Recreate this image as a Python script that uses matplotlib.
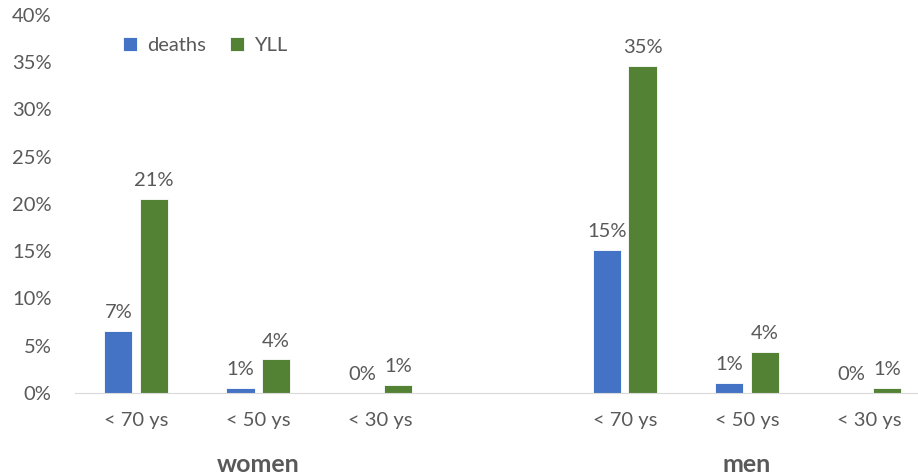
import matplotlib.pyplot as plt
import numpy as np

plt.rcParams['font.family'] = ['Lato', 'DejaVu Sans']

# categories, with an empty slot between women and men
groups = ['women', 'men']
ages = ['< 70 ys', '< 50 ys', '< 30 ys']
deaths_women = [6.55, 0.55, 0.0]
yll_women = [20.55, 3.55, 0.88]
deaths_men = [15.15, 1.05, 0.0]
yll_men = [34.6, 4.35, 0.55]

blue = '#4472C4'
green = '#548235'
grey = '#595959'

deaths = deaths_women + [np.nan] + deaths_men
yll = yll_women + [np.nan] + yll_men
labels = ages + [''] + ages
x = np.arange(len(labels))

fig = plt.figure(figsize=(9.18, 4.76), dpi=100)
ax = fig.add_axes([75 / 918, 1 - 393 / 476, (918 - 75) / 918, (393 - 15) / 476])

w = 0.23
off = 0.145
b1 = ax.bar(x - off, deaths, w, color=blue, edgecolor='white', linewidth=0.6, label='deaths')
b2 = ax.bar(x + off, yll, w, color=green, edgecolor='white', linewidth=0.6, label='YLL')

for bars, vals in [(b1, deaths), (b2, yll)]:
    for rect, v in zip(bars, vals):
        if np.isnan(v):
            continue
        ax.annotate('%d%%' % round(v), (rect.get_x() + rect.get_width() / 2, v),
                    xytext=(0, 7), textcoords='offset points', ha='center', va='bottom',
                    fontsize=14.5, color=grey)

ax.set_xlim(-0.5, 6.4)
ax.set_ylim(0, 40)
ax.set_yticks(np.arange(0, 41, 5))
ax.set_yticklabels(['%d%%' % t for t in np.arange(0, 41, 5)])
ax.set_xticks(x)
ax.set_xticklabels(labels)
ax.tick_params(length=0, labelsize=14.5, colors=grey)
ax.tick_params(axis='x', pad=14)
ax.tick_params(axis='y', pad=17)
for s in ['top', 'right', 'left']:
    ax.spines[s].set_visible(False)
ax.spines['bottom'].set_color('#D9D9D9')

ax.text(1, -0.19, groups[0], transform=ax.get_xaxis_transform(), ha='center', va='center',
        fontsize=18, fontweight='bold', color=grey)
ax.text(5, -0.19, groups[1], transform=ax.get_xaxis_transform(), ha='center', va='center',
        fontsize=18, fontweight='bold', color=grey)

ax.legend(loc='upper left', bbox_to_anchor=(0.035, 0.99), ncol=2, frameon=False,
          fontsize=14.5, labelcolor=grey, handlelength=0.7, handleheight=0.7,
          handletextpad=0.5, columnspacing=1.2)

fig.savefig('out.png', dpi=100)
